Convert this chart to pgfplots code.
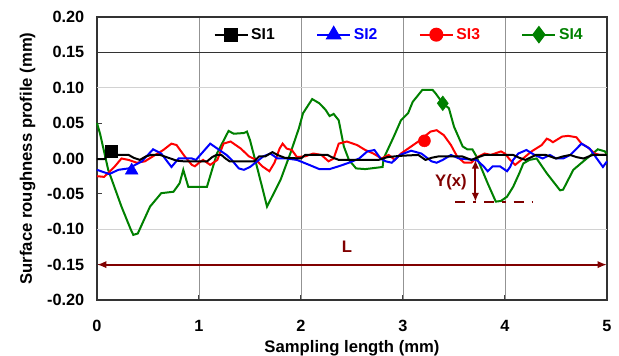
\documentclass[border=0pt]{standalone}
\usepackage{fontspec}
\setmainfont{Liberation Sans}
\usepackage{pgfplots}
\pgfplotsset{compat=1.18}
\usetikzlibrary{arrows.meta}
\definecolor{sigreen}{RGB}{0,128,0}
\definecolor{annot}{RGB}{128,0,0}
\begin{document}
\begin{tikzpicture}
\begin{axis}[
  scale only axis,
  width=382.5pt, height=212.25pt,
  xmin=0, xmax=5, ymin=-0.2, ymax=0.2,
  xtick={0,1,2,3,4,5},
  ytick={-0.2,-0.15,-0.1,-0.05,0,0.05,0.1,0.15,0.2},
  tick pos=left, tick align=inside,
  major tick length=4pt,
  tick style={black!75, line width=0.75pt},
  axis line style={black!80, line width=0.8pt},
  xmajorgrids,
  major grid style={gray!85, line width=0.6pt},
  extra y ticks={-0.1,0.1},
  extra y tick labels={},
  extra y tick style={grid=major, major grid style={gray!35, line width=0.8pt}, tick style={draw=none}},
  /pgf/number format/assume math mode=true,
  yticklabel style={/pgf/number format/fixed, /pgf/number format/fixed zerofill, /pgf/number format/precision=2, xshift=-6pt},
  ticklabel style={font=\bfseries\fontsize{12.2}{14}\selectfont},
  xticklabel style={yshift=-11.5pt},
  xlabel={Sampling length (mm)},
  ylabel={Surface roughness profile (mm)},
  label style={font=\bfseries\fontsize{12.5}{14}\selectfont},
  xlabel style={at={(axis description cs:0.5,-0.172)}, anchor=center},
  ylabel style={at={(axis description cs:-0.136,0.5)}, anchor=center},
  legend columns=4,
  legend style={at={(axis cs:1.14,0.175)}, anchor=west, draw=none, fill=none, inner sep=0pt,
    font=\bfseries\fontsize{11.8}{13}\selectfont,
    /tikz/every even column/.append style={column sep=29pt}},
  legend image code/.code={\draw[mark repeat=2,mark phase=2] plot coordinates {(0pt,0pt) (12.4pt,0pt) (24.75pt,0pt)};},
  clip=false,
]
\coordinate (O) at (rel axis cs:0,0);
\addlegendimage{black, line width=1.5pt, mark=square*, mark size=4.5pt}
\addlegendentry{\textcolor{black}{SI1}}
\addlegendimage{blue, line width=1.5pt, mark=triangle*, mark size=5.5pt}
\addlegendentry{\textcolor{blue}{SI2}}
\addlegendimage{red, line width=1.5pt, mark=*, mark size=4.5pt}
\addlegendentry{\textcolor{red}{SI3}}
\addlegendimage{sigreen, line width=1.5pt, mark=diamond*, mark size=5.5pt}
\addlegendentry{\textcolor{sigreen}{SI4}}

% SI4
\addplot[sigreen, line width=1.5pt, forget plot] coordinates {
(0.00,0.050)(0.03,0.035)(0.11,-0.016)(0.24,-0.068)(0.33,-0.100)(0.356,-0.108)(0.40,-0.106)(0.52,-0.068)(0.63,-0.049)(0.75,-0.047)(0.81,-0.035)(0.846,-0.016)(0.895,-0.040)(1.00,-0.040)(1.078,-0.040)(1.176,0.007)(1.29,0.039)(1.34,0.035)(1.44,0.036)(1.47,0.038)(1.50,0.026)(1.585,-0.021)(1.667,-0.068)(1.80,-0.030)(1.895,0.007)(1.98,0.043)(2.02,0.064)(2.11,0.084)(2.18,0.078)(2.24,0.069)(2.28,0.060)(2.32,0.063)(2.37,0.054)(2.42,0.017)(2.47,-0.002)(2.54,-0.014)(2.63,-0.015)(2.80,-0.012)(2.81,0.000)(2.91,0.031)(2.98,0.054)(3.05,0.064)(3.095,0.080)(3.19,0.097)(3.29,0.097)(3.32,0.092)(3.39,0.078)(3.45,0.071)(3.50,0.045)(3.585,0.017)(3.63,0.013)(3.68,0.013)(3.72,0.003)(3.83,-0.035)(3.91,-0.061)(3.96,-0.060)(4.02,-0.054)(4.08,-0.040)(4.14,-0.021)(4.18,-0.007)(4.24,-0.002)(4.31,0.000)(4.41,-0.021)(4.54,-0.045)(4.57,-0.044)(4.67,-0.016)(4.76,-0.005)(4.86,0.007)(4.91,0.013)(4.98,0.010)(5.00,0.005)
};
% SI3
\addplot[red, line width=1.5pt, forget plot] coordinates {
(0.00,-0.025)(0.07,-0.026)(0.17,-0.012)(0.24,0.000)(0.31,-0.002)(0.39,-0.006)(0.47,-0.004)(0.57,0.005)(0.65,0.012)(0.73,0.021)(0.78,0.019)(0.86,0.003)(0.93,-0.009)(0.96,-0.011)(1.00,-0.006)(1.04,-0.002)(1.11,-0.009)(1.18,-0.002)(1.24,0.021)(1.31,0.024)(1.41,0.014)(1.49,0.003)(1.56,-0.002)(1.62,-0.011)(1.69,-0.018)(1.74,-0.006)(1.79,0.014)(1.82,0.021)(1.86,0.014)(1.91,0.012)(1.96,0.002)(2.04,0.003)(2.12,0.007)(2.20,0.005)(2.27,-0.004)(2.32,0.000)(2.37,0.021)(2.45,0.024)(2.55,0.019)(2.63,0.012)(2.71,0.007)(2.79,0.000)(2.86,0.005)(2.92,-0.002)(2.98,0.007)(3.05,0.014)(3.15,0.024)(3.27,0.038)(3.33,0.040)(3.40,0.033)(3.47,0.019)(3.53,0.003)(3.60,-0.006)(3.67,-0.006)(3.73,0.002)(3.80,0.007)(3.86,0.005)(3.96,0.010)(4.00,0.007)(4.05,-0.002)(4.10,-0.009)(4.16,-0.002)(4.26,0.010)(4.36,0.019)(4.41,0.028)(4.44,0.026)(4.47,0.023)(4.56,0.031)(4.62,0.032)(4.70,0.030)(4.75,0.021)(4.81,0.016)(4.88,0.007)(4.93,0.005)(5.00,0.005)
};
% SI2
\addplot[blue, line width=1.5pt, forget plot] coordinates {
(0.00,-0.016)(0.12,-0.022)(0.21,-0.016)(0.31,-0.014)(0.44,-0.004)(0.55,0.013)(0.63,0.007)(0.73,-0.012)(0.80,0.000)(0.86,0.000)(0.93,0.000)(0.97,-0.002)(1.11,0.021)(1.18,0.014)(1.27,0.005)(1.32,-0.002)(1.39,-0.014)(1.44,-0.016)(1.50,-0.012)(1.57,-0.004)(1.63,0.003)(1.70,0.007)(1.77,0.000)(1.86,0.000)(1.96,-0.002)(2.08,-0.009)(2.18,-0.015)(2.28,-0.015)(2.37,-0.011)(2.47,-0.006)(2.57,0.000)(2.65,0.010)(2.72,0.012)(2.78,0.000)(2.83,-0.004)(2.89,-0.006)(2.97,0.005)(3.08,0.011)(3.18,0.007)(3.28,-0.004)(3.33,-0.006)(3.39,-0.002)(3.47,0.005)(3.55,0.000)(3.63,-0.001)(3.72,-0.002)(3.79,-0.011)(3.83,-0.018)(3.88,-0.011)(3.95,-0.011)(4.02,-0.018)(4.05,-0.012)(4.08,-0.002)(4.13,0.007)(4.21,0.012)(4.29,0.005)(4.37,0.000)(4.44,0.005)(4.50,0.000)(4.57,0.000)(4.64,0.005)(4.75,0.021)(4.83,0.014)(4.91,-0.002)(4.96,-0.012)(5.00,-0.004)
};
% SI1
\addplot[black, line width=1.5pt, forget plot] coordinates {
(0.00,-0.001)(0.07,-0.001)(0.10,0.003)(0.18,0.005)(0.31,0.005)(0.36,0.001)(0.42,-0.002)(0.48,0.003)(0.53,0.005)(0.62,0.005)(0.70,0.001)(0.78,-0.003)(0.85,-0.004)(1.00,-0.004)(1.08,-0.004)(1.13,0.002)(1.17,0.005)(1.22,0.005)(1.26,0.000)(1.30,-0.004)(1.54,-0.004)(1.59,0.003)(1.65,0.003)(1.72,0.009)(1.77,0.005)(1.84,0.001)(2.00,0.000)(2.04,0.005)(2.26,0.005)(2.30,0.002)(2.37,-0.002)(2.76,-0.002)(2.85,0.002)(2.92,0.003)(3.00,0.004)(3.15,0.005)(3.22,-0.002)(3.28,0.001)(3.35,0.003)(3.58,0.003)(3.67,-0.002)(3.74,0.002)(3.80,0.005)(4.08,0.005)(4.14,0.001)(4.20,-0.002)(4.26,0.002)(4.30,0.005)(4.40,0.005)(4.50,0.000)(4.57,0.003)(4.64,0.005)(4.70,0.002)(4.77,0.000)(4.86,0.005)(5.00,0.005)
};
% single markers
\addplot[only marks, mark=square*, mark size=4.5pt, black, forget plot] coordinates {(0.14,0.010)};
\addplot[only marks, mark=triangle*, mark size=5.5pt, blue, forget plot] coordinates {(0.34,-0.017)};
\addplot[only marks, mark=*, mark size=4.5pt, red, forget plot] coordinates {(3.21,0.025)};
\addplot[only marks, mark=diamond*, mark size=5.5pt, sigreen, forget plot] coordinates {(3.39,0.078)};

% legend strip border
\draw[black!80, line width=0.8pt] (axis cs:0,0.15) -- (axis cs:5,0.15);
% annotations
\draw[annot, line width=1.6pt, {Latex[length=7pt,width=5.5pt]}-{Latex[length=7pt,width=5.5pt]}] (axis cs:0,-0.15) -- (axis cs:5,-0.15);
\node[annot, font=\bfseries\fontsize{12.5}{14}\selectfont] at (axis cs:2.45,-0.125) {L};
\draw[annot, line width=1.6pt, {Latex[length=6.5pt,width=5.5pt]}-{Latex[length=6.5pt,width=5.5pt]}] (axis cs:3.71,-0.002) -- (axis cs:3.71,-0.061);
\node[annot, font=\bfseries\fontsize{12.5}{14}\selectfont] at (axis cs:3.47,-0.033) {Y(x)};
\draw[annot, line width=1.6pt, dash pattern=on 7.5pt off 6pt on 2.5pt off 6pt] (axis cs:3.51,-0.062) -- (axis cs:4.27,-0.062);
\end{axis}
\pgfresetboundingbox
\path[use as bounding box] ([xshift=-72.75pt, yshift=-42pt]O) rectangle ++(464.25pt,267pt);
\end{tikzpicture}
\end{document}
